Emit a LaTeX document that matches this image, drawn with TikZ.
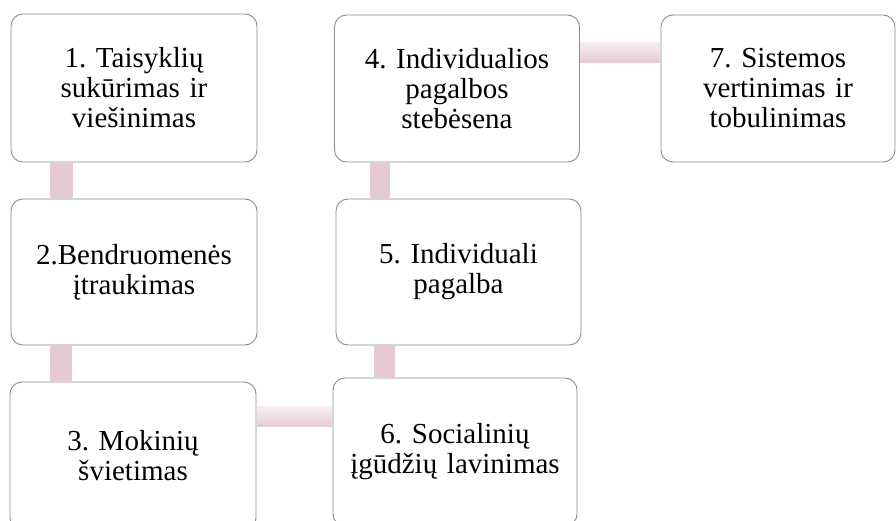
\documentclass[tikz,border=0pt]{standalone}
\usepackage{fontspec}
\setmainfont{Liberation Serif}
\usepackage{tikz}
\usetikzlibrary{calc}

\definecolor{boxline}{HTML}{8C8C8C}
\definecolor{linkpink}{HTML}{E6CBD4}
\definecolor{linklight}{HTML}{F7EEF1}

\begin{document}
\frenchspacing
\begin{tikzpicture}[x=1pt, y=-1pt,
    stage/.style={draw=boxline, line width=0.9pt, rounded corners=12pt, fill=white,
      minimum width=246pt, minimum height=148pt, text width=236pt, align=center,
      inner sep=0pt, font=\fontsize{29}{30}\selectfont},
    vlink/.style={fill=linkpink},
    hlink/.style={top color=linklight, bottom color=linkpink, draw=none}]
        \useasboundingbox (0,0) rectangle (896,521);
        \node[stage] (s1) at (134,88) {1. Taisyklių\\ sukūrimas ir\\ viešinimas};
        \node[stage, minimum height=146pt] (s2) at (134,272) {2.Bendruomenės\\ įtraukimas};
        \node[stage] (s3) at (133,456) {3. Mokinių\\ švietimas};
        \node[stage, minimum width=245pt, minimum height=147pt] (s4) at (457,88.5) {4. Individualios\\ pagalbos\\ stebėsena};
        \node[stage, minimum width=245pt, minimum height=146pt] (s5) at (458.5,272) {5. Individuali\\ pagalba};
        \node[stage, minimum width=244pt] (s6) at (455,452) {6. Socialinių\\ įgūdžių lavinimas};
        \node[stage, minimum width=234pt, minimum height=147pt, text width=224pt] (s7) at (778,88.5) {7. Sistemos\\ vertinimas ir\\ tobulinimas};
        \fill[vlink] ($(s1.south west)+(39,0.5)$) rectangle ($(s2.north west)+(62,-0.5)$);
        \fill[vlink] ($(s2.south west)+(39,0.5)$) rectangle ($(s3.north west)+(62,-0.5)$);
        \fill[vlink] ($(s4.south west)+(36,0.5)$) rectangle ($(s5.north west)+(54,-0.5)$);
        \fill[vlink] ($(s5.south west)+(38,0.5)$) rectangle ($(s6.north west)+(62,-0.5)$);
        \shade[hlink] ($(s4.north east)+(0.5,28)$) rectangle ($(s7.north west)+(-0.5,48)$);
        \shade[hlink] ($(s3.north east)+(0.5,25)$) rectangle ($(s6.north west)+(-0.5,49)$);
      \end{tikzpicture}
\end{document}
